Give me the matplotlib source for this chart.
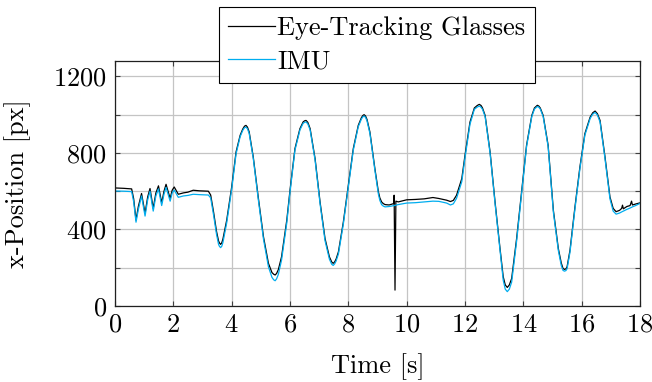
import matplotlib
matplotlib.use("Agg")
import matplotlib.pyplot as plt
from matplotlib.ticker import MultipleLocator

plt.rcParams['font.family'] = ['cmr10', 'DejaVu Serif']
plt.rcParams['mathtext.fontset'] = 'cm'
plt.rcParams['axes.formatter.use_mathtext'] = True

# time stamps [s] shared by both recordings
time_s = [
    0.00, 0.30, 0.57, 0.64, 0.72, 0.80, 0.91, 1.03, 1.12, 1.20,
    1.31, 1.40, 1.49, 1.60, 1.68, 1.75, 1.89, 1.96, 2.03, 2.17,
    2.34, 2.50, 2.68, 2.90, 3.20, 3.28, 3.38, 3.48, 3.55, 3.58, 3.62, 3.66,
    3.70, 3.83, 4.00, 4.15, 4.29, 4.38, 4.44, 4.49, 4.54, 4.60, 4.74, 4.91,
    5.09, 5.26, 5.38, 5.44, 5.49, 5.54, 5.60, 5.71, 5.89, 6.00, 6.17, 6.34,
    6.45, 6.50, 6.55, 6.61, 6.69, 6.86, 7.03, 7.20, 7.35, 7.43, 7.48, 7.53, 7.58, 7.66,
    7.83, 8.00, 8.17, 8.34, 8.45, 8.50, 8.54, 8.59, 8.64, 8.74, 8.91, 9.03,
    9.08, 9.14, 9.20, 9.26, 9.40, 9.55, 9.57, 9.60, 9.63, 9.71, 10.00, 10.30,
    10.60, 10.90, 11.10, 11.37, 11.50, 11.60, 11.71, 11.89, 12.00, 12.17,
    12.32, 12.42, 12.49, 12.55, 12.60, 12.69, 12.86, 13.03, 13.20, 13.31, 13.38, 13.45,
    13.52, 13.60, 13.77, 13.94, 14.11, 14.29, 14.38, 14.48, 14.53, 14.58, 14.68, 14.85,
    15.03, 15.20, 15.30, 15.36, 15.41, 15.46, 15.50, 15.60, 15.77, 15.94, 16.11, 16.29,
    16.38, 16.46, 16.54, 16.63, 16.80, 16.97, 17.08, 17.18, 17.30, 17.37, 17.40, 17.43,
    17.55, 17.66, 17.71, 17.74, 17.85, 18.00,
]

# x-position from the eye-tracking glasses [px]
etg_px = [
    617, 615, 612, 560, 449, 520, 588, 484, 570, 614,
    510, 590, 628, 539, 600, 636, 562, 605, 622, 584,
    591, 595, 605, 602, 600, 580, 490, 390, 340, 330, 322, 330,
    350, 449, 622, 805, 892, 925, 940, 944, 935, 910, 779, 570,
    362, 223, 175, 166, 162, 170, 190, 257, 449, 605, 823, 927,
    962, 968, 970, 960, 927, 770, 544, 353, 257, 230, 223, 230, 245, 283,
    440, 631, 823, 944, 985, 996, 1000, 993, 975, 909, 718, 597,
    565, 544, 535, 530, 528, 535, 579, 83, 548, 544, 555, 557,
    560, 567, 562, 553, 546, 552, 579, 666, 788, 961,
    1035, 1048, 1054, 1048, 1035, 996, 805, 544, 301, 153, 110, 97,
    110, 144, 353, 597, 840, 996, 1035, 1049, 1045, 1035, 996, 840,
    500, 300, 225, 196, 191, 194, 205, 292, 518, 727, 901, 987,
    1010, 1019, 1005, 970, 779, 570, 510, 493, 500, 510, 527, 508,
    520, 525, 548, 528, 533, 539,
]

# x-position derived from the IMU [px]
imu_px = [
    601, 600, 598, 545, 438, 505, 575, 470, 555, 600,
    496, 575, 612, 525, 585, 620, 548, 590, 606, 568,
    575, 578, 584, 582, 580, 565, 475, 375, 322, 312, 305, 312,
    332, 435, 610, 795, 885, 918, 932, 935, 927, 902, 772, 560,
    350, 205, 150, 137, 132, 142, 165, 240, 435, 595, 815, 920,
    955, 960, 962, 952, 920, 762, 535, 342, 245, 218, 212, 220, 235, 272,
    430, 622, 815, 937, 978, 989, 993, 986, 968, 902, 710, 585,
    552, 530, 522, 518, 520, 524, 525, 526, 527, 530, 538, 540,
    544, 548, 547, 538, 528, 534, 563, 650, 775, 950,
    1028, 1040, 1045, 1039, 1028, 990, 798, 536, 290, 135, 88, 75,
    88, 125, 340, 588, 833, 990, 1029, 1043, 1039, 1030, 990, 833,
    490, 290, 212, 186, 182, 185, 195, 282, 508, 718, 893, 980,
    1003, 1012, 998, 962, 770, 560, 496, 480, 486, 492, 494, 496,
    505, 512, 516, 518, 525, 536,
]

fig = plt.figure(figsize=(6.52, 3.82), dpi=100)
ax = fig.add_axes([0.1764, 0.199, 0.8052, 0.641])

ax.plot(time_s, etg_px, color='black', lw=0.9, label='Eye-Tracking Glasses')
ax.plot(time_s, imu_px, color='#00adef', lw=0.9, label='IMU')

ax.set_xlim(0, 18)
ax.set_ylim(0, 1280)
ax.xaxis.set_major_locator(MultipleLocator(2))
ax.yaxis.set_major_locator(MultipleLocator(400))
ax.yaxis.set_minor_locator(MultipleLocator(200))

ax.set_axisbelow(True)
ax.grid(True, which='both', color='#c4c4c4', lw=0.9)
ax.tick_params(which='both', direction='in', top=True, right=True,
               length=3.5, width=0.8, color='#404040', labelsize=19)
ax.tick_params(axis='x', pad=5)
ax.tick_params(axis='y', pad=6)
for sp in ax.spines.values():
    sp.set_color('#202020')
    sp.set_linewidth(0.9)

ax.set_xlabel('Time [s]', fontsize=19, labelpad=12)
ax.set_ylabel('x-Position [px]', fontsize=19, labelpad=16)

leg = fig.legend(loc='upper center', bbox_to_anchor=(0.578, 0.982),
                 borderaxespad=0, fontsize=19, handlelength=1.75,
                 handletextpad=0.1, labelspacing=0.38, borderpad=0.35,
                 fancybox=False, framealpha=1, edgecolor='black')
leg.get_frame().set_linewidth(0.8)

fig.savefig('out.png', dpi=100)
